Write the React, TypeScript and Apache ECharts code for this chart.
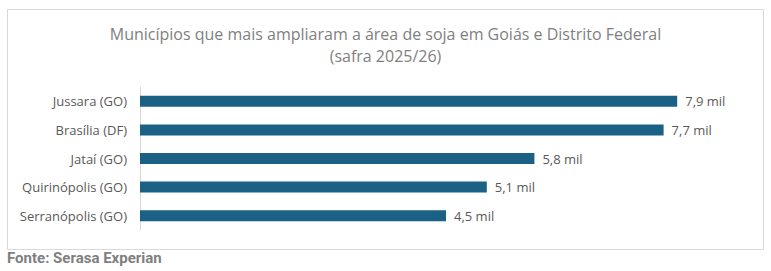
import React, { useEffect, useRef } from "react";
import * as echarts from "echarts";

const categories = ["Jussara (GO)", "Brasília (DF)", "Jataí (GO)", "Quirinópolis (GO)", "Serranópolis (GO)"];
const values = [7.9, 7.7, 5.8, 5.1, 4.5];
const valueLabels = ["7,9 mil", "7,7 mil", "5,8 mil", "5,1 mil", "4,5 mil"];
const titleText = "Municípios que mais ampliaram a área de soja em Goiás e Distrito Federal\n(safra 2025/26)";
const sourceText = "Fonte: Serasa Experian";

export default function App() {
  const ref = useRef<HTMLDivElement>(null);
  useEffect(() => {
    if (!ref.current) return;
    const chart = echarts.init(ref.current, undefined, { renderer: "svg" });
    chart.setOption({
      animation: false,
      backgroundColor: "#ffffff",
      title: {
        text: titleText,
        left: "center",
        top: 18,
        textStyle: {
          fontFamily: "Open Sans",
          fontSize: 16,
          fontWeight: "normal",
          color: "#7f7f7f",
          lineHeight: 22,
        },
      },
      graphic: [
        {
          type: "rect",
          shape: { x: 7.5, y: 9.5, width: 756, height: 240 },
          style: { fill: "none", stroke: "#d9d9d9", lineWidth: 1 },
          silent: true,
        },
        {
          type: "text",
          left: 7,
          top: 250,
          style: {
            text: sourceText,
            fontFamily: "Roboto",
            fontWeight: "bold",
            fontSize: 15,
            fill: "#7f7f7f",
          },
        },
      ],
      grid: { left: 140, right: 19, top: 87, bottom: 41, containLabel: false },
      xAxis: {
        type: "value",
        min: 0,
        max: 9,
        show: false,
      },
      yAxis: {
        type: "category",
        data: categories,
        inverse: true,
        axisLine: { show: true, lineStyle: { color: "#d9d9d9", width: 1 } },
        axisTick: { show: false },
        axisLabel: {
          fontFamily: "Open Sans",
          fontSize: 13,
          color: "#595959",
          margin: 13,
        },
      },
      series: [
        {
          type: "bar",
          data: values,
          barWidth: 11,
          itemStyle: { color: "#1a6185" },
          label: {
            show: true,
            position: "right",
            distance: 8,
            fontFamily: "Open Sans",
            fontSize: 13,
            color: "#595959",
            formatter: (p: any) => valueLabels[p.dataIndex],
          },
        },
      ],
    });
    return () => chart.dispose();
  }, []);
  return <div ref={ref} style={{ position: "fixed", left: 0, top: 0, width: 771, height: 271 }} />;
}
